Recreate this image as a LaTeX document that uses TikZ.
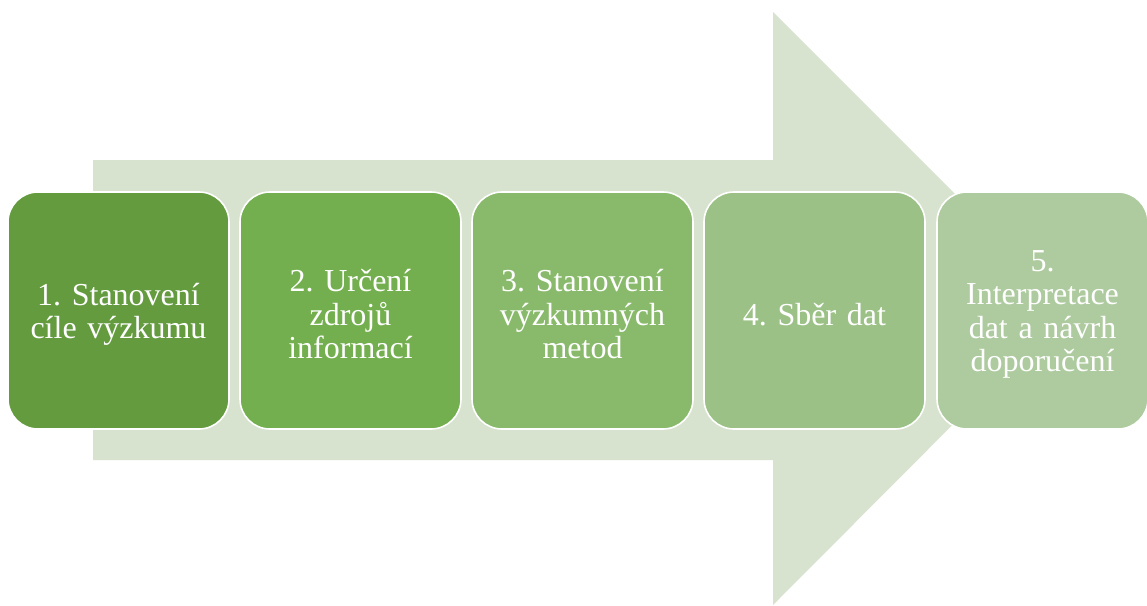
\documentclass[tikz,border=0pt]{standalone}
\usepackage{fontspec}
\setmainfont{Liberation Serif}
\usepackage{tikz}
\frenchspacing

\definecolor{arrowbg}{HTML}{D8E3CF}
\definecolor{stepA}{HTML}{639B3E}
\definecolor{stepB}{HTML}{73AF4E}
\definecolor{stepC}{HTML}{89BA6B}
\definecolor{stepD}{HTML}{9BC186}
\definecolor{stepE}{HTML}{AECB9F}

\tikzset{
  stagebox/.style={rectangle,rounded corners=30pt,draw=white,line width=1.6pt,
    minimum width=221pt,minimum height=237pt,inner sep=0pt},
  stagetext/.style={text width=200pt,align=center,text=white,
    font=\fontsize{32}{33.5}\selectfont,inner sep=0pt,yshift=-4pt}
}

\begin{document}
\begin{tikzpicture}[x=1pt,y=-1pt]
\useasboundingbox (0,0) rectangle (1147,605);

% big arrow behind the steps
\fill[arrowbg] (93,160) -- (773,160) -- (773,12) -- (1069,308)
  -- (773,605) -- (773,460) -- (93,460) -- cycle;

\node[stagebox,fill=stepA,label={[stagetext]center:{1. Stanovení\\cíle výzkumu}}] (S1) at (118.5,310.5){};
\node[stagebox,fill=stepB,label={[stagetext]center:{2. Určení\\zdrojů\\informací}}] (S2) at (350.5,310.5){};
\node[stagebox,fill=stepC,label={[stagetext]center:{3. Stanovení\\výzkumných\\metod}}] (S3) at (582.5,310.5){};
\node[stagebox,fill=stepD,label={[stagetext]center:{4. Sběr dat}}] (S4) at (814.5,310.5){};
\node[stagebox,fill=stepE,minimum width=211pt,label={[stagetext]center:{5.\\Interpretace\\dat a návrh\\doporučení}}] (S5) at (1042.5,310.5){};
\end{tikzpicture}
\end{document}
